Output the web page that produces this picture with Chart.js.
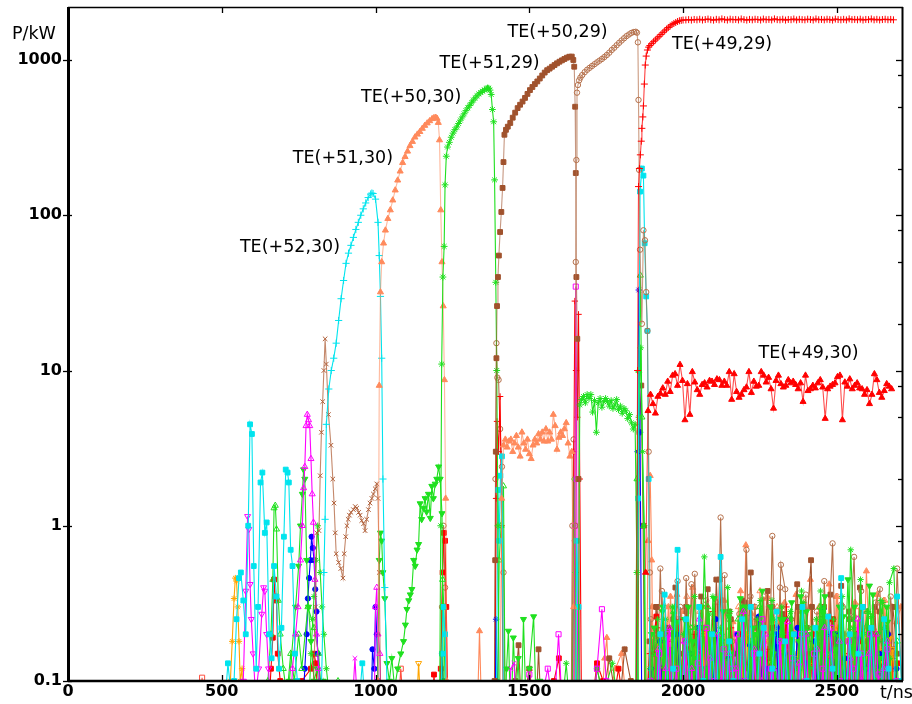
<!DOCTYPE html>
<html><head><meta charset="utf-8">
<script src="https://cdn.jsdelivr.net/npm/chart.js@4.4.0/dist/chart.umd.min.js"></script>
<style>html,body{margin:0;padding:0;background:#fff}canvas{display:block}</style>
</head><body>
<canvas id="c" width="912" height="704"></canvas>
<script>
// ---------- axes ----------
const xTicks = [0, 500, 1000, 1500, 2000, 2500];
const yTicks = [0.1, 1, 10, 100, 1000];
const yMinor = [0.2, 0.5, 0.8, 2, 5, 8, 20, 50, 80, 200, 500, 800];

// ---------- main mode curves ----------
const tCyan52 = [816,824,832,836,840,848,856,864,872,880,888,896,904,912,920,928,936,944,952,960,968,976,984,988,992,1000,1008,1012,1016,1020,1024,1030,1038];
const pCyan52 = [0.05,0.09,0.5,1.1,4.5,7.6,10,12,15,21,29,38,49,57,64,72,81,90,100,110,120,130,137,139,138,127,90,55,30,12,2,0.4,0.08];

const tCoral51 = [1004,1008,1012,1016,1020,1026,1032,1040,1048,1056,1064,1072,1080,1088,1096,1104,1112,1120,1128,1136,1144,1152,1160,1168,1176,1184,1190,1196,1200,1204,1208,1212,1216,1220,1224,1228,1232];
const pCoral51 = [0.05,0.1,8,32,50,66,80,95,108,125,145,168,192,218,238,258,280,298,318,332,345,362,378,392,405,418,424,426,420,395,305,108,50,26,8.7,1.5,0.1];
const tCoralPlat0 = 1404, dtCoralPlat = 6;
const pCoralPlat = [0.05,1.5,3.3,3.6,3.2,3.5,3.6,3.0,3.4,3.8,3.2,2.8,4.0,3.4,3.1,3.6,2.9,2.7,3.3,3.6,3.4,3.9,3.6,4.0,3.5,4.2,3.5,4.0,3.6,5.2,4.4,3.1,3.7,4.0,3.8,4.2,4.6,3.4,2.8,3.0,0.3];

const tGreen50 = [1208,1212,1215,1219,1223,1226,1230,1234,1240,1246,1252,1258,1264,1270,1276,1282,1288,1294,1300,1306,1312,1318,1324,1330,1336,1342,1348,1354,1360,1364,1368,1372,1376,1380,1384,1387,1391,1394,1398,1402];
const pGreen50 = [0.05,1,11,40,63,157,240,275,295,318,338,356,370,390,410,430,450,472,492,510,530,552,570,588,605,618,630,642,652,660,658,640,600,480,400,169,37,10,1,0.08];
const tGreenPlat0 = 1658, dtGreenPlat = 6;
const pGreenPlat = [0.05,6.0,6.5,6.8,6.2,7.0,6.6,7.0,5.4,6.4,4.0,6.2,6.6,5.8,6.3,6.6,6.3,5.9,6.4,5.7,6.0,6.5,5.6,5.9,5.3,5.7,5.5,4.9,5.2,4.6,4.2,4.5,0.5,0.05];

const tBrown51 = [1384,1387,1389,1391,1393,1395,1398,1401,1405,1409,1413,1416,1419,1424,1430,1438,1446,1454,1462,1470,1478,1486,1494,1502,1510,1518,1526,1534,1542,1550,1558,1566,1574,1582,1590,1598,1606,1614,1622,1630,1638,1643,1646,1649,1651,1653,1656,1660,1664];
const pBrown51 = [0.05,0.1,0.6,3,12,26,40,55,78,105,150,220,330,355,372,393,425,458,490,515,540,570,605,640,670,700,728,760,795,830,860,880,905,928,952,975,995,1015,1035,1050,1052,1000,905,500,187,40,16,2,0.08];

const tCirc50 = [1646,1649,1651,1653,1655,1658,1662,1666,1672,1680,1688,1696,1704,1712,1720,1728,1736,1744,1752,1760,1768,1776,1784,1792,1800,1808,1816,1824,1832,1840,1846,1850,1853,1855,1857,1860,1866,1871,1876,1880,1884,1888,1892,1896];
const pCirc50 = [0.05,1,50,227,616,690,740,770,800,835,865,890,915,940,965,990,1015,1045,1077,1115,1160,1200,1245,1290,1335,1380,1425,1460,1495,1515,1520,1500,1300,553,196,60,20,80,69,32,18,3,0.5,0.05];

const tRed49Rise = [1848,1852,1855,1858,1861,1864,1866,1869,1871,1874,1877,1880,1884,1888,1892,1898,1904,1910,1916,1922,1928,1934,1940,1946,1952,1958,1964,1970,1976,1982,1988,1994,2000];
const pRed49Rise = [0.08,10,153,200,245,300,363,430,506,700,928,1060,1160,1210,1240,1275,1312,1345,1385,1420,1460,1500,1540,1580,1620,1655,1690,1720,1745,1770,1790,1800,1810];
const tRed49Flat0 = 2009, dtRed49Flat = 9;
const pRed49Flat = [1812,1820,1808,1825,1815,1830,1810,1822,1835,1818,1806,1828,1815,1840,1820,1810,1832,1818,1825,1812,1838,1820,1808,1826,1815,1830,1822,1810,1835,1818,1826,1812,1840,1820,1815,1830,1808,1825,1818,1836,1812,1828,1820,1815,1832,1822,1810,1838,1818,1826,1814,1830,1820,1808,1835,1822,1815,1828,1812,1840,1820,1826,1816,1832,1810,1825,1820,1838,1815,1828,1812,1822,1830,1818,1826,1815];

const tRedTri0 = 1878, dtRedTri = 8;
const pRedTri = [0.5,5.5,7.0,6.1,5.3,6.8,7.1,7.7,7.0,8.5,7.3,9.3,9.5,8.0,10.9,8.6,4.8,8.2,5.2,9.8,8.4,7.5,7.0,8.1,8.3,7.8,8.6,8.5,8.1,8.8,8.7,8.0,8.5,8.0,9.8,6.5,9.5,7.3,6.7,7.0,7.5,7.8,9.8,7.2,8.5,7.9,8.0,9.8,9.3,8.4,9.0,7.6,5.7,8.6,9.3,8.2,7.8,8.0,8.7,8.3,8.5,8.1,7.6,8.3,6.3,9.3,7.4,7.6,8.0,7.7,8.3,8.7,7.8,4.9,7.6,7.9,8.1,8.3,9.1,9.3,4.8,8.4,7.9,8.8,7.6,8.0,8.3,7.7,7.6,7.0,7.5,6.1,7.0,9.5,8.7,7.2,6.7,7.4,8.2,7.9,7.6];

const tBrownX = [795,805,809,816,820,824,828,832,836,840,847,855,861,865,869,872,880,887,894,898,903,907,911,915,920,928,934,939,945,950,955,961,966,971,977,982,988,993,999,1004,1008,1012,1016];
const pBrownX = [0.05,0.3,0.9,0.93,2.1,4,6.3,10,16,11,5.2,3.3,2.0,1.4,0.9,0.66,0.58,0.53,0.46,0.66,0.85,1.0,1.1,1.17,1.22,1.27,1.33,1.3,1.22,1.17,1.08,1.03,0.93,1.1,1.27,1.4,1.5,1.6,1.73,1.86,1.5,0.5,0.08];

// ---------- weak / parasitic modes (noise) ----------
const dtLate = 14;
const dtLate2 = 12;
const tCyanSq = [500,512,520,528,540,548,556,562,570,578,586,592,598,604,612,618,626,632,640,646,654,662,670,678,686,694,702,708,714,718,724,730,738,746,754,762, 940,957,970, 1210,1216,1220,1226,1232, 1392,1398,1402,1406,1411,1416, 1650,1654,1660,1666, 1848,1854,1860,1866,1871,1875,1880,1884,1888,1893];
const pCyanSq = [0.05,0.08,0.13,0.09,0.1,0.25,0.46,0.5,0.33,0.2,1.0,4.5,3.9,0.55,0.12,0.3,1.9,2.2,0.9,1.05,0.2,0.14,0.55,0.35,0.12,0.22,0.85,2.3,2.2,1.9,0.7,0.55,0.15,0.1,0.06,0.05, 0.05,0.13,0.05, 0.05,0.15,0.3,0.2,0.05, 0.05,1.7,0.8,2.1,2.8,0.05, 0.05,0.8,0.3,0.05, 0.05,1.5,142,200,180,66,30,18,2,0.05];
const tCyanSqLate0 = 1898;
const pCyanSqLate = [0.05,0.05,0.2,0.36,0.05,0.12,0.7,0.05,0.25,0.08,0.05,0.3,0.1,0.05,0.2,0.06,0.63,0.05,0.18,0.1,0.05,0.25,0.06,0.3,0.05,0.15,0.22,0.05,0.12,0.28,0.05,0.18,0.06,0.2,0.05,0.3,0.1,0.05,0.22,0.08,0.05,0.26,0.12,0.05,0.46,0.06,0.2,0.05,0.15,0.3,0.05,0.22,0.08,0.05,0.25,0.12,0.05,0.35,0.1];

const tMagTriUp = [720,730,740,748,756,762,766,770,774,778,782,786,790,794,798,803,808,815,825, 995,1000,1004,1008,1014,1020];
const pMagTriUp = [0.05,0.12,0.2,0.3,0.6,1.0,1.75,2.4,4.4,5.2,4.8,4.4,2.7,1.6,1.05,0.45,0.2,0.12,0.05, 0.05,0.3,0.4,0.2,0.15,0.05];
const tMagTriUpLate0 = 1884;
const pMagTriUpLate = [0.05,0.1,0.05,0.16,0.05,0.12,0.22,0.05,0.08,0.05,0.18,0.05,0.12,0.05,0.25,0.06,0.05,0.14,0.05,0.2,0.1,0.05,0.15,0.05,0.12,0.05,0.28,0.06,0.05,0.16,0.05,0.1,0.2,0.05,0.12,0.05,0.18,0.05,0.24,0.08,0.05,0.13,0.05,0.2,0.05,0.1,0.16,0.05,0.22,0.05,0.12,0.05,0.18,0.06,0.05,0.14,0.05,0.25,0.1,0.05,0.15,0.05,0.2,0.05,0.12,0.18,0.05,0.1];

const tMagTriDown = [560,570,578,584,588,592,596,602,610,620,630,636,640,646,652,660,670];
const pMagTriDown = [0.05,0.1,0.38,1.15,0.95,0.42,0.25,0.15,0.08,0.12,0.27,0.4,0.38,0.2,0.12,0.06,0.05];

const tMagSq = [1480,1500,1520,1560,1580,1595,1610, 1644,1648,1651,1654,1658, 1700,1720,1736,1750,1770];
const pMagSq = [0.05,0.11,0.05,0.12,0.06,0.2,0.05, 0.05,1,34.7,2,0.05, 0.05,0.12,0.29,0.1,0.05];
const tMagSqLate0 = 1880;
const pMagSqLate = [0.05,0.1,0.05,0.15,0.06,0.2,0.05,0.12,0.05,0.18,0.08,0.05,0.13,0.05,0.22,0.06,0.1,0.05,0.16,0.05,0.12,0.2,0.05,0.1,0.05,0.15,0.06,0.25,0.05,0.12,0.05,0.18,0.07,0.05,0.14,0.05,0.2,0.1,0.05,0.15,0.05,0.12,0.06,0.22,0.05,0.1,0.05,0.18,0.12,0.05,0.15,0.05,0.2,0.06,0.11,0.05,0.16,0.05,0.1];

const tMagX = [920,933,945,1430,1440,1450,1460,1480];
const pMagX = [0.05,0.14,0.05,0.05,0.12,0.13,0.06,0.05];

const tGrnTriUp = [640,650,660,666,670,674,678,684,690,700,712,724,736,750,760,780,800,815,830,870,878,886, 1214,1218,1222,1228, 1396,1402,1408,1416,1422, 1845,1850,1856,1861,1866,1872,1878];
const pGrnTriUp = [0.05,0.1,0.2,0.45,1.3,1.35,0.95,0.33,0.2,0.12,0.08,0.15,0.1,0.2,0.12,0.3,0.22,0.15,0.05,0.05,0.1,0.05, 0.05,0.45,0.3,0.05, 0.05,0.6,1,1.8,0.05, 0.05,2,10,41,5,1,0.05];
const tGrnTriUpLate0 = 1885;
const pGrnTriUpLate = [0.05,0.15,0.05,0.2,0.08,0.05,0.28,0.05,0.12,0.05,0.22,0.06,0.15,0.05,0.3,0.05,0.1,0.2,0.05,0.14,0.05,0.25,0.06,0.05,0.18,0.05,0.3,0.1,0.05,0.2,0.05,0.15,0.06,0.26,0.05,0.12,0.05,0.22,0.08,0.05,0.3,0.05,0.14,0.05,0.2,0.1,0.05,0.25,0.05,0.15,0.06,0.28,0.05,0.12,0.05,0.22,0.06,0.05,0.18];

const tGrnTriDown = [700,720,740,750,756,762,766,770,776,782,790,800,810,820,830,840, 1005,1012,1016,1020,1024,1030,1037,1045,1053,1062,1072,1082,1091,1097,1102,1108,1113,1118,1124,1129,1135,1140,1145,1150,1156,1161,1166,1172,1178,1183,1188,1194,1199,1205,1210,1216,1220, 1420,1426,1432,1440,1448,1456,1464,1472,1481,1490,1500,1514,1524,1534,1544];
const pGrnTriDown = [0.05,0.1,0.3,0.55,1.0,1.6,2.3,2.0,0.6,0.3,0.18,0.1,0.12,0.08,0.1,0.05, 0.05,0.6,0.9,0.8,0.5,0.34,0.13,0.1,0.14,0.09,0.12,0.15,0.18,0.23,0.29,0.33,0.36,0.39,0.6,0.55,0.7,0.76,1.39,1.1,1.3,1.5,1.23,1.6,1.12,1.8,1.5,1.86,2.0,2.4,2.0,1.2,0.1, 0.05,0.12,0.21,0.05,0.19,0.08,0.14,0.05,0.25,0.06,0.12,0.26,0.05,0.1,0.05];
const tGrnTriDownLate0 = 1878;
const pGrnTriDownLate = [0.05,0.05,0.22,0.06,0.3,0.05,0.15,0.1,0.05,0.25,0.06,0.18,0.05,0.3,0.12,0.05,0.2,0.06,0.28,0.05,0.15,0.05,0.34,0.1,0.05,0.22,0.06,0.15,0.05,0.3,0.1,0.05,0.25,0.06,0.18,0.05,0.35,0.05,0.2,0.12,0.05,0.28,0.06,0.15,0.05,0.3,0.08,0.45,0.05,0.2,0.12,0.05,0.41,0.06,0.2,0.05,0.3,0.1,0.05];
const tGrnTriDown2Late0 = 1885;
const pGrnTriDown2Late = [0.05,0.2,0.05,0.12,0.28,0.05,0.16,0.05,0.24,0.08,0.05,0.3,0.05,0.14,0.05,0.22,0.1,0.05,0.34,0.05,0.18,0.06,0.26,0.05,0.12,0.05,0.3,0.1,0.05,0.2,0.05,0.38,0.06,0.05,0.15,0.05,0.25,0.12,0.05,0.32,0.05,0.18,0.05,0.28,0.08,0.05,0.22,0.05,0.35,0.1,0.05,0.16,0.05,0.26,0.06,0.05,0.3,0.05,0.2,0.12,0.05,0.36,0.05,0.14,0.05,0.24,0.08,0.05];

const tGrnStar = [780,790,796,800,806,812,820,826,832,840,850,860, 1600,1620,1636, 1640,1646,1650,1654, 1700,1720,1740,1770,1800, 1850,1856,1862,1868,1874,1880];
const pGrnStar = [0.05,0.15,0.25,0.35,0.6,1.0,0.5,0.3,0.2,0.12,0.08,0.05, 0.05,0.13,0.05, 0.05,2,0.5,0.05, 0.05,0.12,0.08,0.13,0.05, 0.05,5,14,3,1,0.05];
const tGrnStarLate0 = 1887;
const pGrnStarLate = [0.05,0.05,0.15,0.06,0.25,0.05,0.3,0.1,0.05,0.18,0.06,0.22,0.05,0.63,0.08,0.35,0.05,0.2,0.05,0.28,0.12,0.05,0.3,0.06,0.18,0.05,0.33,0.1,0.05,0.25,0.06,0.3,0.05,0.2,0.14,0.05,0.32,0.06,0.22,0.05,0.38,0.1,0.05,0.25,0.06,0.3,0.05,0.7,0.12,0.05,0.2,0.28,0.05,0.15,0.33,0.05,0.43,0.53,0.1];
const tGrnStar2Late0 = 1881;
const pGrnStar2Late = [0.05,0.12,0.05,0.25,0.06,0.18,0.05,0.3,0.1,0.05,0.2,0.05,0.15,0.35,0.05,0.12,0.05,0.27,0.06,0.05,0.22,0.05,0.4,0.1,0.05,0.18,0.05,0.3,0.12,0.05,0.25,0.05,0.14,0.05,0.33,0.08,0.05,0.2,0.05,0.28,0.1,0.05,0.38,0.05,0.16,0.06,0.25,0.05,0.3,0.12,0.05,0.2,0.05,0.35,0.08,0.05,0.22,0.05,0.45,0.1,0.05,0.26,0.05,0.18,0.32,0.05,0.14,0.05];

const tBlueDot = [760,770,776,780,784,788,792,796,800,804,808,812,820,830,840, 985,990,996,1000,1004,1008,1012,1018, 1212,1216,1220,1226];
const pBlueDot = [0.05,0.12,0.2,0.34,0.46,0.6,0.85,0.72,0.6,0.39,0.28,0.15,0.1,0.06,0.05, 0.05,0.16,0.12,0.3,0.2,0.1,0.06,0.05, 0.05,0.15,0.1,0.05];
const tBlueDotLate0 = 1882;
const pBlueDotLate = [0.05,0.12,0.06,0.18,0.05,0.1,0.05,0.2,0.08,0.05,0.15,0.06,0.22,0.05,0.12,0.05,0.25,0.07,0.05,0.14,0.05,0.2,0.1,0.05,0.17,0.05,0.26,0.06,0.12,0.05,0.2,0.05,0.15,0.08,0.05,0.22,0.05,0.13,0.06,0.18,0.05,0.29,0.1,0.05,0.2,0.05,0.14,0.07,0.05,0.19,0.05,0.12,0.22,0.05,0.15,0.06,0.2,0.05,0.12];

const tBlueStar = [1388,1392,1396,1402, 1848,1852,1856,1860,1866, 2300,2310,2320,2470,2480,2490,2650,2660,2670];
const pBlueStar = [0.05,0.25,0.1,0.05, 0.05,3,33,4,0.05, 0.05,0.22,0.05,0.05,0.2,0.05,0.05,0.21,0.05];

const tOrangeStar = [520,528,534,540,544,548,552,556,560,566,572];
const pOrangeStar = [0.05,0.1,0.18,0.34,0.46,0.44,0.3,0.18,0.1,0.12,0.05];
const tOrangeStarLate0 = 1882;
const pOrangeStarLate = [0.05,0.12,0.05,0.18,0.06,0.05,0.14,0.05,0.2,0.08,0.05,0.12,0.05,0.16,0.05,0.1,0.22,0.05,0.13,0.05,0.18,0.06,0.05,0.15,0.05,0.12,0.05,0.2,0.1,0.05,0.14,0.05,0.18,0.05,0.11,0.24,0.05,0.12,0.05,0.16,0.07,0.05,0.2,0.05,0.13,0.05,0.18,0.1,0.05,0.15,0.05,0.22,0.05,0.12,0.06,0.05,0.17,0.05,0.14,0.2,0.05,0.12,0.05,0.16,0.05,0.1,0.19,0.05];

const tOrangeDown = [1130,1140,1150];
const pOrangeDown = [0.05,0.13,0.05];
const tOrangeDownLate0 = 1883;
const pOrangeDownLate = [0.05,0.1,0.05,0.14,0.05,0.12,0.18,0.05,0.1,0.05,0.15,0.06,0.05,0.2,0.05,0.12,0.05,0.1,0.16,0.05,0.12,0.05,0.14,0.06,0.05,0.18,0.05,0.1,0.05,0.13,0.05,0.2,0.06,0.1,0.05,0.15,0.05,0.11,0.05,0.17,0.06,0.05,0.12,0.05,0.14,0.05,0.1,0.19,0.05,0.12,0.05,0.15,0.05,0.1,0.06,0.13,0.05,0.16,0.08];

const tRedSq = [650,660,666,670,674,678,682,690,700,730,760,790,800,806,812,820, 1180,1190,1200, 1205,1212,1218,1222,1226,1230,1236, 1560,1580,1596,1610,1700,1720,1740,1760,1790,1810];
const pRedSq = [0.05,0.12,0.19,0.45,0.35,0.33,0.15,0.1,0.06,0.08,0.1,0.12,0.15,0.13,0.08,0.05, 0.05,0.11,0.05, 0.05,0.12,0.5,0.9,0.8,0.3,0.05, 0.05,0.1,0.14,0.05,0.06,0.13,0.1,0.05,0.12,0.06];
const tRedSqLate0 = 1885;
const pRedSqLate = [0.05,0.15,0.26,0.05,0.12,0.06,0.2,0.05,0.1,0.16,0.05,0.12,0.05,0.22,0.06,0.1,0.05,0.18,0.05,0.14,0.08,0.05,0.2,0.05,0.12,0.06,0.16,0.05,0.1,0.22,0.05,0.13,0.05,0.18,0.06,0.1,0.05,0.15,0.05,0.2,0.08,0.05,0.12,0.25,0.05,0.14,0.06,0.1,0.05,0.18,0.05,0.12,0.06,0.2,0.05,0.15,0.07,0.05,0.13];

const tRedPlus = [1388,1392,1395,1400,1405,1410,1416, 1640,1645,1648,1652,1656,1660,1664,1670];
const pRedPlus = [0.05,1.5,4.7,3,6.8,1,0.05, 0.05,3,28,10,5,23,2,0.05];
const tRedPlusLate0 = 1880;
const pRedPlusLate = [0.05,0.15,0.05,0.22,0.08,0.05,0.18,0.05,0.12,0.25,0.05,0.1,0.05,0.2,0.06,0.05,0.16,0.05,0.28,0.1,0.05,0.14,0.05,0.22,0.05,0.12,0.18,0.05,0.1,0.05,0.25,0.07,0.05,0.16,0.05,0.2,0.12,0.05,0.3,0.05,0.14,0.05,0.2,0.08,0.05,0.18,0.05,0.12,0.26,0.05,0.1,0.05,0.22,0.06,0.05,0.15,0.05,0.2,0.1,0.05,0.28,0.05,0.12,0.05,0.18,0.08,0.05,0.14];

const tBrownCirc = [1210,1216,1221,1226,1232, 1386,1390,1393,1396,1400,1405,1411,1416,1422, 1636,1640,1644,1648,1652];
const pBrownCirc = [0.05,0.3,1.0,0.4,0.05, 0.05,2,15,9,8.7,4.2,2.4,0.5,0.05, 0.05,1,3.6,0.8,0.05];
const tBrownCircLate0 = 1898;
const pBrownCircLate = [0.05,0.05,0.53,0.05,0.15,0.07,0.44,0.05,0.46,0.06,0.49,0.05,0.2,0.05,0.13,0.05,1.13,0.05,0.25,0.06,0.18,0.05,0.7,0.05,0.3,0.06,0.35,0.05,0.86,0.05,0.56,0.39,0.05,0.2,0.05,0.28,0.06,0.15,0.05,0.25,0.05,0.18,0.77,0.05,0.31,0.06,0.2,0.63,0.05,0.22,0.06,0.15,0.32,0.39,0.05,0.2,0.06,0.53,0.1];
const tBrownCirc2Late0 = 1883;
const pBrownCirc2Late = [0.05,0.25,0.06,0.05,0.38,0.1,0.05,0.2,0.05,0.3,0.12,0.05,0.42,0.05,0.15,0.06,0.33,0.05,0.2,0.1,0.05,0.48,0.05,0.18,0.05,0.27,0.08,0.05,0.35,0.05,0.14,0.22,0.05,0.3,0.06,0.05,0.4,0.1,0.05,0.25,0.05,0.18,0.05,0.36,0.09,0.05,0.28,0.05,0.44,0.12,0.05,0.2,0.05,0.3,0.07,0.05,0.26,0.05,0.38,0.1,0.05,0.22,0.05,0.32,0.06,0.05,0.35,0.12];

const tBrownSq = [1440,1455,1465,1475,1500,1520,1530,1540, 1700,1720,1740,1760,1790,1810,1830,1840, 1852,1858,1864,1870,1876];
const pBrownSq = [0.05,0.1,0.17,0.06,0.12,0.05,0.16,0.05, 0.05,0.12,0.08,0.14,0.06,0.16,0.1,0.05, 0.05,4,8,1,0.05];
const tBrownSqLate0 = 1884;
const pBrownSqLate = [0.05,0.05,0.3,0.08,0.2,0.05,0.25,0.12,0.05,0.3,0.15,0.05,0.2,0.07,0.39,0.05,0.45,0.1,0.05,0.28,0.15,0.05,0.33,0.08,0.5,0.05,0.2,0.12,0.05,0.3,0.18,0.05,0.25,0.1,0.05,0.3,0.06,0.22,0.6,0.05,0.18,0.3,0.05,0.2,0.1,0.41,0.05,0.25,0.12,0.05,0.3,0.08,0.2,0.05,0.28,0.1,0.05,0.3,0.15];
const tBrownSq2Late0 = 1879;
const pBrownSq2Late = [0.05,0.18,0.05,0.3,0.12,0.05,0.22,0.06,0.4,0.05,0.15,0.28,0.05,0.12,0.05,0.35,0.08,0.05,0.2,0.05,0.45,0.1,0.05,0.25,0.06,0.18,0.05,0.32,0.12,0.05,0.22,0.05,0.15,0.38,0.05,0.1,0.05,0.27,0.07,0.05,0.2,0.42,0.05,0.14,0.05,0.3,0.1,0.05,0.24,0.05,0.36,0.08,0.05,0.2,0.05,0.28,0.12,0.05,0.4,0.06,0.18,0.05,0.3,0.1,0.05,0.22,0.05,0.16];

const tCoralTri = [1330,1338,1346,1480,1500,1520,1730,1745,1752,1760,1780,1800,1820,1830, 1880,1886,1893,1898,1904];
const pCoralTri = [0.05,0.21,0.05,0.05,0.12,0.06,0.05,0.14,0.19,0.08,0.12,0.15,0.06,0.05, 0.05,0.8,2.1,0.6,0.05];
const tCoralTriLate0 = 1910;
const pCoralTriLate = [0.05,0.2,0.08,0.3,0.05,0.36,0.12,0.28,0.05,0.22,0.06,0.3,0.14,0.05,0.26,0.08,0.33,0.05,0.24,0.12,0.05,0.75,0.05,0.3,0.18,0.05,0.35,0.1,0.05,0.26,0.32,0.06,0.15,0.28,0.05,0.2,0.45,0.05,0.3,0.12,0.26,0.05,0.35,0.09,0.2,0.05,0.3,0.14,0.05,0.51,0.1,0.28,0.05,0.33,0.12,0.05,0.24,0.3,0.08];
const tCoralTri2Late0 = 1887;
const pCoralTri2Late = [0.05,0.3,0.08,0.05,0.22,0.05,0.35,0.12,0.05,0.28,0.05,0.18,0.4,0.05,0.1,0.05,0.3,0.06,0.25,0.05,0.33,0.1,0.05,0.2,0.05,0.38,0.12,0.05,0.27,0.05,0.16,0.05,0.34,0.08,0.05,0.22,0.3,0.05,0.12,0.05,0.36,0.06,0.24,0.05,0.3,0.1,0.05,0.2,0.05,0.42,0.12,0.05,0.26,0.05,0.18,0.05,0.32,0.08,0.05,0.28,0.05,0.22,0.36,0.05,0.14,0.05,0.3,0.1];

const tCoralOpenLate0 = 1886;
const pCoralOpenLate = [0.05,0.05,0.2,0.05,0.3,0.1,0.05,0.25,0.06,0.35,0.05,0.15,0.28,0.05,0.2,0.05,0.32,0.1,0.05,0.22,0.05,0.3,0.12,0.05,0.25,0.06,0.38,0.05,0.18,0.05,0.3,0.1,0.05,0.25,0.05,0.2,0.33,0.05,0.12,0.05,0.28,0.06,0.2,0.05,0.35,0.1,0.05,0.22,0.05,0.3,0.12,0.05,0.26,0.05,0.2,0.33,0.05,0.15,0.06];

const tSalmonSq = [430,436,442, 1070,1082,1095];
const pSalmonSq = [0.05,0.105,0.05, 0.05,0.12,0.05];

// ---------- text ----------
const modeLabels = [
  {text:'TE(+52,30)', t:559,  p:57.8},
  {text:'TE(+51,30)', t:731,  p:218},
  {text:'TE(+50,30)', t:953,  p:539},
  {text:'TE(+51,29)', t:1208, p:884},
  {text:'TE(+50,29)', t:1429, p:1400},
  {text:'TE(+49,29)', t:1964, p:1171},
  {text:'TE(+49,30)', t:2245, p:12.05}
];

// ---------- helpers ----------
function xy(ts, ps){ return ts.map((t,i)=>({x:t, y:ps[i]})); }
function seq(t0, dt, ps){ return ps.map((p,i)=>({x:t0+i*dt, y:p})); }
function ds(data, color, style, filled, o){
  o = o || {};
  return Object.assign({
    data: data,
    borderColor: o.lineColor || color,
    borderWidth: 1.1,
    pointStyle: style,
    pointRadius: style === 'triangle' ? 3.5 : 3.2,
    pointBorderColor: color,
    pointBackgroundColor: filled ? color : 'rgba(0,0,0,0)',
    pointBorderWidth: 1,
    pointRotation: 0,
    fill: false,
    tension: 0
  }, o.extra || {});
}

const C = {
  cyan:'#00E4EE', green:'#1FE01F', coral:'#FF8A5C', sienna:'#A0522D',
  tan:'#B5714C', red:'#FF0000', magenta:'#FF00FF', blue:'#0000FF', orange:'#FFA500'
};

const datasets = [
  // main modes (first = on top)
  ds(xy(tRed49Rise,pRed49Rise).concat(seq(tRed49Flat0,dtRed49Flat,pRed49Flat)), C.red, 'cross', false, {lineColor:'rgba(255,0,0,0.75)', extra:{pointRadius:3.5}}),
  ds(seq(tRedTri0,dtRedTri,pRedTri), C.red, 'triangle', true, {lineColor:'rgba(255,0,0,0.7)'}),
  ds(xy(tCirc50,pCirc50), C.tan, 'circle', false, {lineColor:'rgba(181,113,76,0.7)', extra:{pointRadius:2.7}}),
  ds(xy(tBrown51,pBrown51), C.sienna, 'rect', true, {lineColor:'rgba(160,82,45,0.6)', extra:{pointRadius:3.4}}),
  ds(xy(tGreen50,pGreen50), C.green, 'star', false, {extra:{pointRadius:3.4}}),
  ds(seq(tGreenPlat0,dtGreenPlat,pGreenPlat), C.green, 'star', false, {extra:{pointRadius:3.4}}),
  ds(xy(tCoral51,pCoral51), C.coral, 'triangle', true, {lineColor:'rgba(255,138,92,0.6)'}),
  ds(seq(tCoralPlat0,dtCoralPlat,pCoralPlat), C.coral, 'triangle', true, {lineColor:'rgba(255,138,92,0.7)'}),
  ds(xy(tCyan52,pCyan52), C.cyan, 'cross', false, {extra:{pointRadius:3.6}}),
  ds(xy(tBrownX,pBrownX), '#B0603A', 'crossRot', false, {lineColor:'rgba(176,96,58,0.75)'}),
  // weak modes
  ds(xy(tCyanSq,pCyanSq).concat(seq(tCyanSqLate0,dtLate,pCyanSqLate)), C.cyan, 'rect', true, {extra:{pointRadius:3.4}}),
  ds(xy(tMagTriUp,pMagTriUp).concat(seq(tMagTriUpLate0,dtLate2,pMagTriUpLate)), C.magenta, 'triangle', false),
  ds(xy(tMagTriDown,pMagTriDown), C.magenta, 'triangle', false, {extra:{pointRotation:180}}),
  ds(xy(tMagSq,pMagSq).concat(seq(tMagSqLate0,dtLate,pMagSqLate)), C.magenta, 'rect', false, {extra:{pointRadius:3.6}}),
  ds(xy(tMagX,pMagX), C.magenta, 'crossRot', false),
  ds(xy(tGrnTriUp,pGrnTriUp).concat(seq(tGrnTriUpLate0,dtLate,pGrnTriUpLate)), C.green, 'triangle', false),
  ds(xy(tGrnTriDown,pGrnTriDown).concat(seq(tGrnTriDownLate0,dtLate,pGrnTriDownLate)), C.green, 'triangle', true, {extra:{pointRotation:180}}),
  ds(seq(tGrnTriDown2Late0,dtLate2,pGrnTriDown2Late), C.green, 'triangle', true, {extra:{pointRotation:180}}),
  ds(xy(tGrnStar,pGrnStar).concat(seq(tGrnStarLate0,dtLate,pGrnStarLate)), C.green, 'star', false),
  ds(seq(tGrnStar2Late0,dtLate2,pGrnStar2Late), C.green, 'star', false),
  ds(xy(tBlueDot,pBlueDot).concat(seq(tBlueDotLate0,dtLate,pBlueDotLate)), C.blue, 'circle', true, {extra:{pointRadius:2.6}}),
  ds(xy(tBlueStar,pBlueStar), C.blue, 'star', false),
  ds(xy(tOrangeStar,pOrangeStar).concat(seq(tOrangeStarLate0,dtLate2,pOrangeStarLate)), C.orange, 'star', false),
  ds(xy(tOrangeDown,pOrangeDown).concat(seq(tOrangeDownLate0,dtLate,pOrangeDownLate)), C.orange, 'triangle', false, {extra:{pointRotation:180}}),
  ds(xy(tRedSq,pRedSq).concat(seq(tRedSqLate0,dtLate,pRedSqLate)), C.red, 'rect', true, {extra:{pointRadius:3.4}}),
  ds(xy(tRedPlus,pRedPlus).concat(seq(tRedPlusLate0,dtLate2,pRedPlusLate)), C.red, 'cross', false),
  ds(xy(tBrownCirc,pBrownCirc).concat(seq(tBrownCircLate0,dtLate,pBrownCircLate)), C.tan, 'circle', false, {extra:{pointRadius:2.7}}),
  ds(seq(tBrownCirc2Late0,dtLate2,pBrownCirc2Late), C.tan, 'circle', false, {extra:{pointRadius:2.7}}),
  ds(xy(tBrownSq,pBrownSq).concat(seq(tBrownSqLate0,dtLate,pBrownSqLate)), C.sienna, 'rect', true, {extra:{pointRadius:3.4}}),
  ds(seq(tBrownSq2Late0,dtLate2,pBrownSq2Late), C.sienna, 'rect', true, {extra:{pointRadius:3.4}}),
  ds(xy(tCoralTri,pCoralTri).concat(seq(tCoralTriLate0,dtLate,pCoralTriLate)), C.coral, 'triangle', true),
  ds(seq(tCoralTri2Late0,dtLate2,pCoralTri2Late), C.coral, 'triangle', true),
  ds(seq(tCoralOpenLate0,dtLate,pCoralOpenLate), C.coral, 'triangle', false),
  ds(xy(tSalmonSq,pSalmonSq), '#FF5040', 'rect', false, {extra:{pointRadius:3.6}})
];

const frame = {
  id:'frame',
  afterDraw(chart){
    const {ctx, chartArea:a, scales} = chart;
    const x = scales.x, y = scales.y;
    const L = (x1,y1,x2,y2)=>{ctx.beginPath();ctx.moveTo(x1,y1);ctx.lineTo(x2,y2);ctx.stroke();};
    ctx.save();
    ctx.strokeStyle = '#000';
    ctx.lineWidth = 1.3;
    xTicks.forEach(v=>{ if(v===0) return; const px = Math.round(x.getPixelForValue(v))+0.5;
      L(px, a.bottom, px, a.bottom-6); L(px, a.top, px, a.top+6); });
    yTicks.forEach(v=>{ const py = Math.round(y.getPixelForValue(v))+0.5;
      L(a.left-5, py, a.left+4, py); L(a.right, py, a.right-7, py); });
    yMinor.forEach(v=>{ const py = Math.round(y.getPixelForValue(v))+0.5;
      L(a.right, py, a.right-5, py); });
    ctx.lineWidth = 1.5; L(a.left, a.top+0.5, a.right, a.top+0.5);
    ctx.lineWidth = 2; L(a.right-0.5, a.top, a.right-0.5, a.bottom);
    ctx.lineWidth = 2.5; L(a.left, a.bottom, a.right, a.bottom);
    ctx.lineWidth = 3; L(a.left+0.5, a.top, a.left+0.5, a.bottom+1);
    ctx.fillStyle = '#000';
    ctx.textAlign = 'left';
    ctx.textBaseline = 'alphabetic';
    ctx.font = '17.5px "DejaVu Sans"';
    modeLabels.forEach(l=>ctx.fillText(l.text, x.getPixelForValue(l.t), y.getPixelForValue(l.p)));
    ctx.fillText('P/kW', 12, 39);
    ctx.fillText('t/ns', 880, 698);
    ctx.restore();
  }
};

new Chart(document.getElementById('c'), {
  type:'line',
  data:{datasets},
  options:{
    responsive:false, animation:false, devicePixelRatio:1,
    layout:{padding:{top:7, right:9, left:0, bottom:0}},
    plugins:{legend:{display:false}, tooltip:{enabled:false}},
    events:[],
    scales:{
      x:{type:'linear', min:0, max:2715,
         afterBuildTicks:s=>{ s.ticks = xTicks.map(v=>({value:v})); },
         afterFit:s=>{ s.height = 23; s.paddingLeft = 0; s.paddingRight = 0; },
         grid:{display:false, drawTicks:false}, border:{display:false},
         ticks:{callback:v=>String(v), color:'#000', padding:1, maxRotation:0, autoSkip:false,
                font:{family:'DejaVu Sans', size:16, weight:'bold'}}},
      y:{type:'logarithmic', min:0.1, max:2195,
         afterBuildTicks:s=>{ s.ticks = yTicks.map(v=>({value:v})); },
         afterFit:s=>{ s.width = 68; s.paddingTop = 0; s.paddingBottom = 0; },
         grid:{display:false, drawTicks:false}, border:{display:false},
         ticks:{callback:v=>String(v), color:'#000', padding:6, autoSkip:false,
                font:{family:'DejaVu Sans', size:16, weight:'bold'}}}
    }
  },
  plugins:[frame]
});
</script>
</body></html>
